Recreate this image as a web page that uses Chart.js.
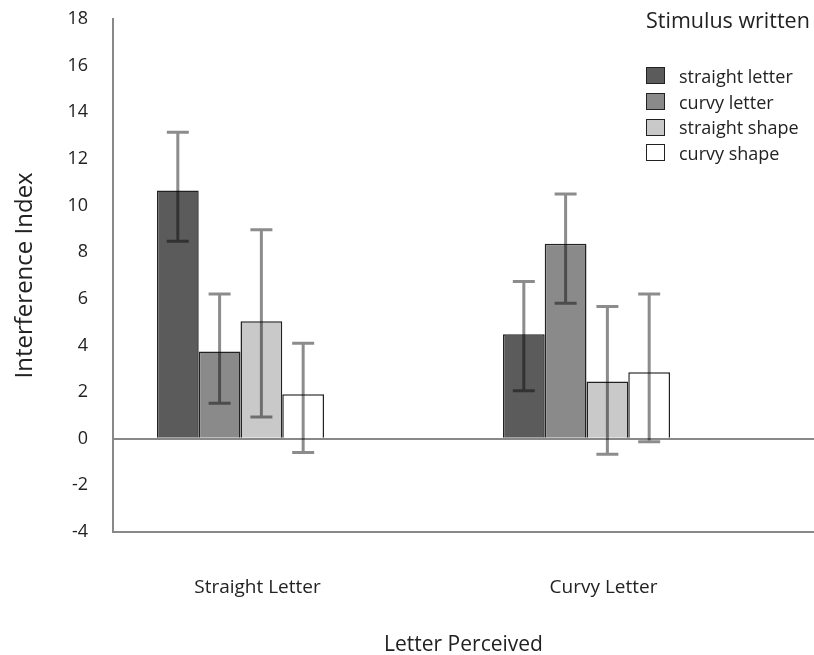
<!DOCTYPE html>
<html>
<head>
<meta charset="utf-8">
<script src="https://cdn.jsdelivr.net/npm/chart.js@4.4.1/dist/chart.umd.min.js"></script>
<style>
    body { margin: 0; background: #fff; font-family: "Open Sans", sans-serif; }
    #wrap { position: relative; width: 814px; height: 655px; }
    #legend { position: absolute; left: 646px; top: 5px; color: #222; }
    #legend .ttl { font-size: 21.5px; line-height: 30px; margin-bottom: 28px; white-space: nowrap; }
    #legend .item { display: flex; align-items: center; height: 25.7px; font-size: 18px; white-space: nowrap; }
    #legend .box { width: 17px; height: 15px; border: 1.5px solid #222; margin-right: 14px; }
</style>
</head>
<body>
<div id="wrap">
    <canvas id="barChart" width="814" height="655"></canvas>
    <div id="legend"></div>
</div>
<script>
const categories = ['Straight Letter', 'Curvy Letter'];
const seriesNames = ['straight letter', 'curvy letter', 'straight shape', 'curvy shape'];
const seriesColors = ['#5b5b5b', '#8a8a8a', '#c9c9c9', '#ffffff'];

// середні значення (по групах: Straight Letter, Curvy Letter)
const straightLetter = [10.64, 4.48];
const curvyLetter = [3.74, 8.36];
const straightShape = [5.03, 2.45];
const curvyShape = [1.90, 2.85];

// межі похибок для кожної серії
const errLow = [[8.46, 2.05], [1.52, 5.81], [0.93, -0.67], [-0.59, -0.13]];
const errHigh = [[13.14, 6.74], [6.20, 10.49], [8.96, 5.67], [4.09, 6.20]];

const yTicks = [-4, -2, 0, 2, 4, 6, 8, 10, 12, 14, 16, 18];

const allValues = [straightLetter, curvyLetter, straightShape, curvyShape];

// --- Легенда ---
const legend = document.getElementById('legend');
legend.innerHTML = '<div class="ttl">Stimulus written</div>';
seriesNames.forEach((n, i) => {
    legend.innerHTML += `<div class="item"><span class="box" style="background:${seriesColors[i]}"></span>${n}</div>`;
});

// --- Похибки ---
const errorBars = {
    id: 'errorBars',
    afterDatasetsDraw(chart) {
        const ctx = chart.ctx;
        const y = chart.scales.y;
        ctx.save();
        ctx.strokeStyle = 'rgba(0,0,0,0.45)';
        ctx.lineWidth = 3;
        chart.data.datasets.forEach((ds, i) => {
            chart.getDatasetMeta(i).data.forEach((bar, j) => {
                const lo = y.getPixelForValue(errLow[i][j]);
                const hi = y.getPixelForValue(errHigh[i][j]);
                ctx.beginPath();
                ctx.moveTo(bar.x, lo); ctx.lineTo(bar.x, hi);
                ctx.moveTo(bar.x - 11, lo); ctx.lineTo(bar.x + 11, lo);
                ctx.moveTo(bar.x - 11, hi); ctx.lineTo(bar.x + 11, hi);
                ctx.stroke();
            });
        });
        ctx.restore();
    }
};

const datasets = seriesNames.map((n, i) => ({
    label: n,
    data: allValues[i].map((v, j) => ({ x: j, y: v })),
    backgroundColor: seriesColors[i],
    borderColor: '#222',
    borderWidth: 1.5,
    categoryPercentage: 0.483,
    barPercentage: 1
}));

const txt = '#222';
const clear = 'rgba(0,0,0,0)';
new Chart(document.getElementById('barChart'), {
    type: 'bar',
    data: { datasets: datasets },
    options: {
        responsive: false,
        animation: false,
        layout: { padding: { left: 11, top: 18, right: 0, bottom: 0 } },
        plugins: { legend: { display: false }, tooltip: { enabled: false } },
        scales: {
            x: {
                type: 'linear',
                offset: false,
                min: -0.3685, max: 1.6575,
                afterBuildTicks: s => { s.ticks = s.ticks.filter(t => Number.isInteger(t.value)); },
                ticks: { stepSize: 1, padding: 7, labelOffset: 17, color: txt, maxRotation: 0,
                    font: { family: 'Open Sans', size: 19 },
                    callback: v => categories[v] ?? '' },
                grid: { offset: false, color: clear, tickColor: clear, tickLength: 37 },
                border: { color: '#888', width: 2 },
                title: { display: true, text: 'Letter Perceived', color: txt,
                    font: { family: 'Open Sans', size: 21 }, padding: { top: 27, bottom: -3 } }
            },
            y: {
                min: -4, max: 18,
                afterBuildTicks: s => { s.ticks = yTicks.map(v => ({ value: v })); },
                ticks: { padding: 8, color: txt, font: { family: 'Open Sans', size: 18 } },
                grid: { lineWidth: 2, tickLength: 17, tickColor: clear,
                    color: c => c.tick && c.tick.value === 0 ? '#888' : clear },
                border: { color: '#888', width: 2 },
                title: { display: true, text: 'Interference Index', color: txt,
                    font: { family: 'Open Sans', size: 24 }, padding: { top: 0, bottom: 19.6 } }
            }
        }
    },
    plugins: [errorBars]
});
</script>
</body>
</html>
